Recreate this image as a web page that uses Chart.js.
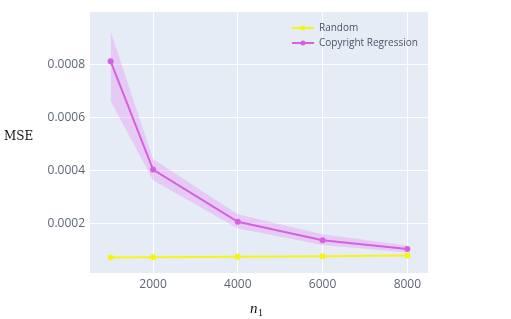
<!DOCTYPE html>
<html>
<head>
<meta charset="utf-8">
<script src="https://cdn.jsdelivr.net/npm/chart.js@4"></script>
<style>
  html, body { margin: 0; padding: 0; background: #fff; }
  #wrap { width: 511px; height: 319px; }
</style>
</head>
<body>
<div id="wrap"><canvas id="mseChart" width="511" height="319"></canvas></div>
<script>
// values
const nValues = [1000, 2000, 4000, 6000, 8000];
const randomMse = [0.000073, 0.000074, 0.000076, 0.000078, 0.000080];
const copyrightMse = [0.000811, 0.000404, 0.000207, 0.000138, 0.000105];
const copyrightUpper = [0.000924, 0.000444, 0.000236, 0.000160, 0.000118];
const copyrightLower = [0.000662, 0.000364, 0.000182, 0.000120, 0.000092];
const xTicks = [2000, 4000, 6000, 8000];
const yTicks = [0.0002, 0.0004, 0.0006, 0.0008];

const magenta = 'rgb(214,96,224)';
const yellow = 'rgb(245,245,20)';
const toPts = ys => nValues.map((x, i) => ({x: x, y: ys[i]}));

// plot background, titles and the legend inside the plot
const decor = {
  id: 'decor',
  beforeDraw(chart) {
    const {ctx, chartArea: a} = chart;
    ctx.save();
    ctx.fillStyle = '#E5ECF6';
    ctx.fillRect(a.left, a.top, a.right - a.left, a.bottom - a.top);
    ctx.restore();
  },
  afterDraw(chart) {
    const ctx = chart.ctx;
    ctx.save();
    ctx.fillStyle = '#111';
    ctx.font = '12px "DejaVu Serif", "Liberation Serif", serif';
    ctx.textBaseline = 'middle';
    ctx.fillText('MSE', 4, 137);
    ctx.font = 'italic 15px "Liberation Serif", serif';
    ctx.fillText('n', 250, 309);
    ctx.font = '10px "Liberation Serif", serif';
    ctx.fillText('1', 258, 313);

    // legend
    const items = [['Random', yellow], ['Copyright Regression', magenta]];
    ctx.font = '10px "Open Sans", sans-serif';
    items.forEach((it, i) => {
      const y = 28 + i * 15;
      ctx.strokeStyle = it[1];
      ctx.lineWidth = 2;
      ctx.beginPath(); ctx.moveTo(292, y); ctx.lineTo(314, y); ctx.stroke();
      ctx.fillStyle = it[1];
      ctx.beginPath(); ctx.arc(303, y, 2.5, 0, Math.PI * 2); ctx.fill();
      ctx.fillStyle = '#4a5468';
      ctx.fillText(it[0], 319, y);
    });
    ctx.restore();
  }
};

const ctx = document.getElementById('mseChart').getContext('2d');
new Chart(ctx, {
  type: 'line',
  data: {
    datasets: [
      { label: 'upper', data: toPts(copyrightUpper), borderWidth: 0, pointRadius: 0, fill: false, tension: 0, order: 3 },
      { label: 'lower', data: toPts(copyrightLower), borderWidth: 0, pointRadius: 0, fill: '-1', backgroundColor: 'rgba(228,140,245,0.35)', tension: 0, order: 3 },
      { label: 'Random', data: toPts(randomMse), borderColor: yellow, backgroundColor: yellow, borderWidth: 2, pointRadius: 3, pointBorderWidth: 0, fill: false, tension: 0, order: 1 },
      { label: 'Copyright Regression', data: toPts(copyrightMse), borderColor: magenta, backgroundColor: magenta, borderWidth: 2, pointRadius: 3, pointBorderWidth: 0, fill: false, tension: 0, order: 2 }
    ]
  },
  options: {
    responsive: false,
    animation: false,
    layout: { padding: { top: 3, right: 83, left: 0, bottom: 0 } },
    plugins: { legend: { display: false }, tooltip: { enabled: false } },
    scales: {
      x: {
        type: 'linear', min: 513, max: 8487,
        afterBuildTicks: s => { s.ticks = xTicks.map(v => ({value: v})); },
        afterFit: s => { s.height = 46; },
        grid: { color: '#fff', lineWidth: 1, drawTicks: false },
        border: { display: false },
        ticks: { padding: 4, color: '#5d6676', font: { family: '"Open Sans", sans-serif', size: 12 }, callback: v => String(v) }
      },
      y: {
        type: 'linear', min: 0.0000145, max: 0.000996,
        afterBuildTicks: s => { s.ticks = yTicks.map(v => ({value: v})); },
        afterFit: s => { s.width = 90; },
        grid: { color: '#fff', lineWidth: 1, drawTicks: false },
        border: { display: false },
        ticks: { padding: 5, color: '#5d6676', font: { family: '"Open Sans", sans-serif', size: 12 }, callback: v => v.toFixed(4) }
      }
    }
  },
  plugins: [decor]
});
</script>
</body>
</html>
